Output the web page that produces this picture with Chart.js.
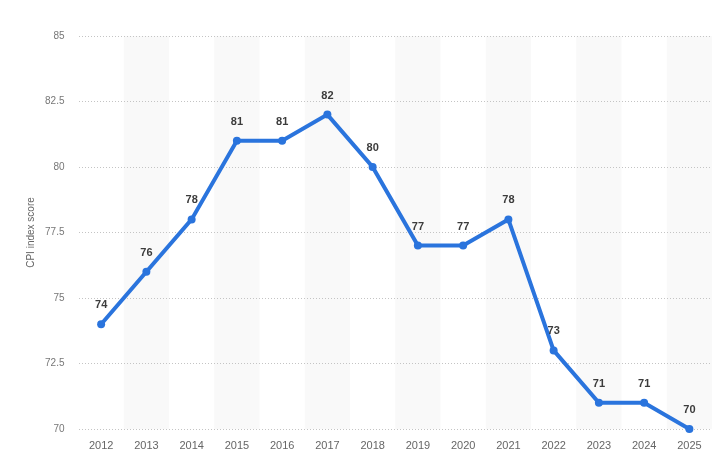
<!DOCTYPE html>
<html>
<head>
<meta charset="utf-8">
<script src="https://cdn.jsdelivr.net/npm/chart.js@4/dist/chart.umd.min.js"></script>
<style>
  html, body { margin: 0; padding: 0; background: #fff; }
  #wrap { width: 727px; height: 464px; }
</style>
</head>
<body>
<div id="wrap"><canvas id="grafico"></canvas></div>
<script>
let anios = ['2012','2013','2014','2015','2016','2017','2018','2019','2020','2021','2022','2023','2024','2025']
let puntajes = [74, 76, 78, 81, 81, 82, 80, 77, 77, 78, 73, 71, 71, 70]
let ticks_y = [70, 72.5, 75, 77.5, 80, 82.5, 85]
let titulo_y = 'CPI index score'

let azul = '#2a74dd'
let fuente = '"Liberation Sans", Arial, sans-serif'

// franjas grises alternas, debajo de la rejilla
const franjas = {
    id: 'franjas',
    beforeDraw(chart) {
        let ctx = chart.ctx
        let x = chart.scales.x
        let area = chart.chartArea
        let ancho = (area.right - area.left) / anios.length
        ctx.save()
        ctx.fillStyle = '#f9f9f9'
        for (let i = 1; i < anios.length; i += 2) {
            let cx = x.getPixelForValue(i)
            ctx.fillRect(cx - ancho / 2, area.top, ancho, area.bottom - area.top)
        }
        ctx.restore()
    }
}

// etiquetas de valor sobre cada punto
const etiquetas = {
    id: 'etiquetas',
    afterDatasetsDraw(chart) {
        let ctx = chart.ctx
        let meta = chart.getDatasetMeta(0)
        ctx.save()
        ctx.font = 'bold 11px ' + fuente
        ctx.fillStyle = '#3c3c3c'
        ctx.textAlign = 'center'
        ctx.textBaseline = 'middle'
        meta.data.forEach((p, i) => {
            ctx.fillText(String(puntajes[i]), p.x, p.y - 19)
        })
        ctx.restore()
    }
}

let configuracion = {
    type: 'line',
    data: {
        labels: anios,
        datasets: [{
            label: titulo_y,
            data: puntajes,
            borderColor: azul,
            backgroundColor: azul,
            borderWidth: 4,
            pointRadius: 4,
            pointBackgroundColor: azul,
            pointBorderWidth: 0,
            tension: 0,
            clip: false
        }]
    },
    options: {
        responsive: true,
        maintainAspectRatio: false,
        animation: false,
        layout: { padding: { top: 36, right: 15, left: 0, bottom: 0 } },
        plugins: {
            legend: { display: false },
            tooltip: { enabled: false }
        },
        scales: {
            x: {
                offset: true,
                grid: { display: false, drawTicks: false },
                border: { display: false },
                ticks: { color: '#666', font: { family: fuente, size: 11 }, padding: 10 },
                afterFit: s => { s.height = 35 }
            },
            y: {
                min: 70,
                max: 85,
                afterBuildTicks: s => { s.ticks = ticks_y.map(v => ({ value: v })) },
                grid: { color: '#c4c4c4', drawTicks: false, lineWidth: 1 },
                border: { display: false, dash: [1, 2] },
                ticks: { color: '#777', font: { family: fuente, size: 10 }, padding: 14 },
                title: {
                    display: true,
                    text: titulo_y,
                    color: '#666',
                    font: { family: fuente, size: 10 },
                    padding: { top: 25, bottom: 0 }
                },
                afterFit: s => { s.width = 78.5 }
            }
        }
    },
    plugins: [franjas, etiquetas]
}

let ctx = document.getElementById('grafico').getContext('2d')
let grafico = new Chart(ctx, configuracion)
</script>
</body>
</html>
